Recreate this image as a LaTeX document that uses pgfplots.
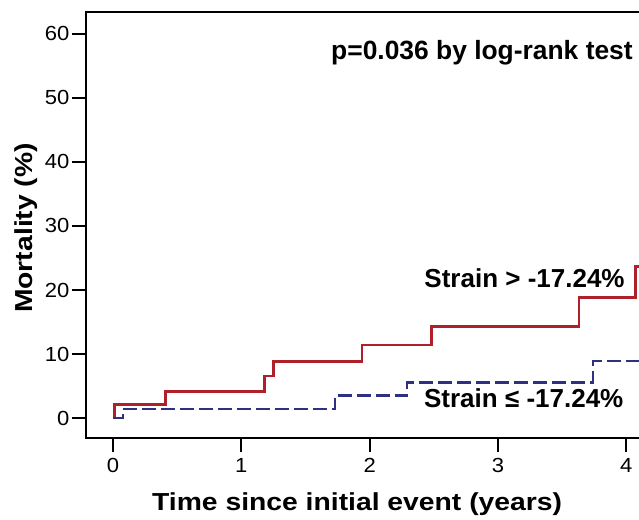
\documentclass[border=0pt]{standalone}
\usepackage{fontspec}
\setmainfont{Liberation Sans}
\newfontfamily\lblfont[FakeStretch=1.15]{Liberation Sans}
\newfontfamily\tckfont[FakeStretch=1.08]{Liberation Sans}
\usepackage{pgfplots}
\pgfplotsset{compat=1.18}
\definecolor{kmred}{HTML}{B0202A}
\definecolor{kmblue}{HTML}{2E3084}
\begin{document}
\begin{tikzpicture}
\path[use as bounding box] (-43pt,-41pt) rectangle (276.5pt,219pt);
\clip (-43pt,-41pt) rectangle (276.5pt,219pt);
\begin{axis}[
  scale only axis, width=283pt, height=213pt,
  xmin=-0.21, xmax=4.2, ymin=-3.1, ymax=63.4,
  axis line style={line width=1.1pt},
  tick style={line width=1.1pt, black},
  tick align=outside, major tick length=7pt,
  xtick={0,1,2,3,4}, ytick={0,10,20,30,40,50,60},
  xtick pos=bottom, ytick pos=left,
  /pgf/number format/assume math mode=true,
  ticklabel style={font=\tckfont\fontsize{10.2}{11}\selectfont},
  yticklabel style={xshift=2.2pt},
  xticklabel style={yshift=0.5pt},
  xlabel={Time since initial event (years)},
  ylabel={Mortality (\%)},
  label style={font=\lblfont\bfseries\fontsize{12.3}{14}\selectfont},
  xlabel style={at={(rel axis cs:0.479,-0.171)}, anchor=base},
  ylabel style={at={(rel axis cs:-0.0954,0.493)}, anchor=base},
  clip=true,
]
\addplot[const plot, kmred, line width=1.3pt] coordinates {
  (0,0) (0.01,2.1) (0.41,4.15) (1.18,6.6) (1.25,8.8) (1.94,11.4) (2.48,14.3) (3.63,18.8) (4.07,23.7) (4.3,23.7)
};
\addplot[const plot, kmblue, line width=1.3pt, dash pattern=on 7pt off 2.5pt] coordinates {
  (0,0) (0.078,1.4) (1.73,3.5) (2.29,5.6) (3.74,8.9) (4.3,8.9)
};
\node[anchor=east, inner sep=0pt, font=\bfseries\fontsize{13.2}{15}\selectfont] at (axis cs:4.053,57) {p=0.036 by log-rank test};
\node[anchor=east, inner sep=0pt, font=\bfseries\fontsize{13}{15}\selectfont] at (axis cs:3.99,21.9) {Strain > -17.24\%};
\node[anchor=east, inner sep=0pt, font=\bfseries\fontsize{13}{15}\selectfont] at (axis cs:3.98,3.1) {Strain ≤ -17.24\%};
\end{axis}
\end{tikzpicture}
\end{document}
